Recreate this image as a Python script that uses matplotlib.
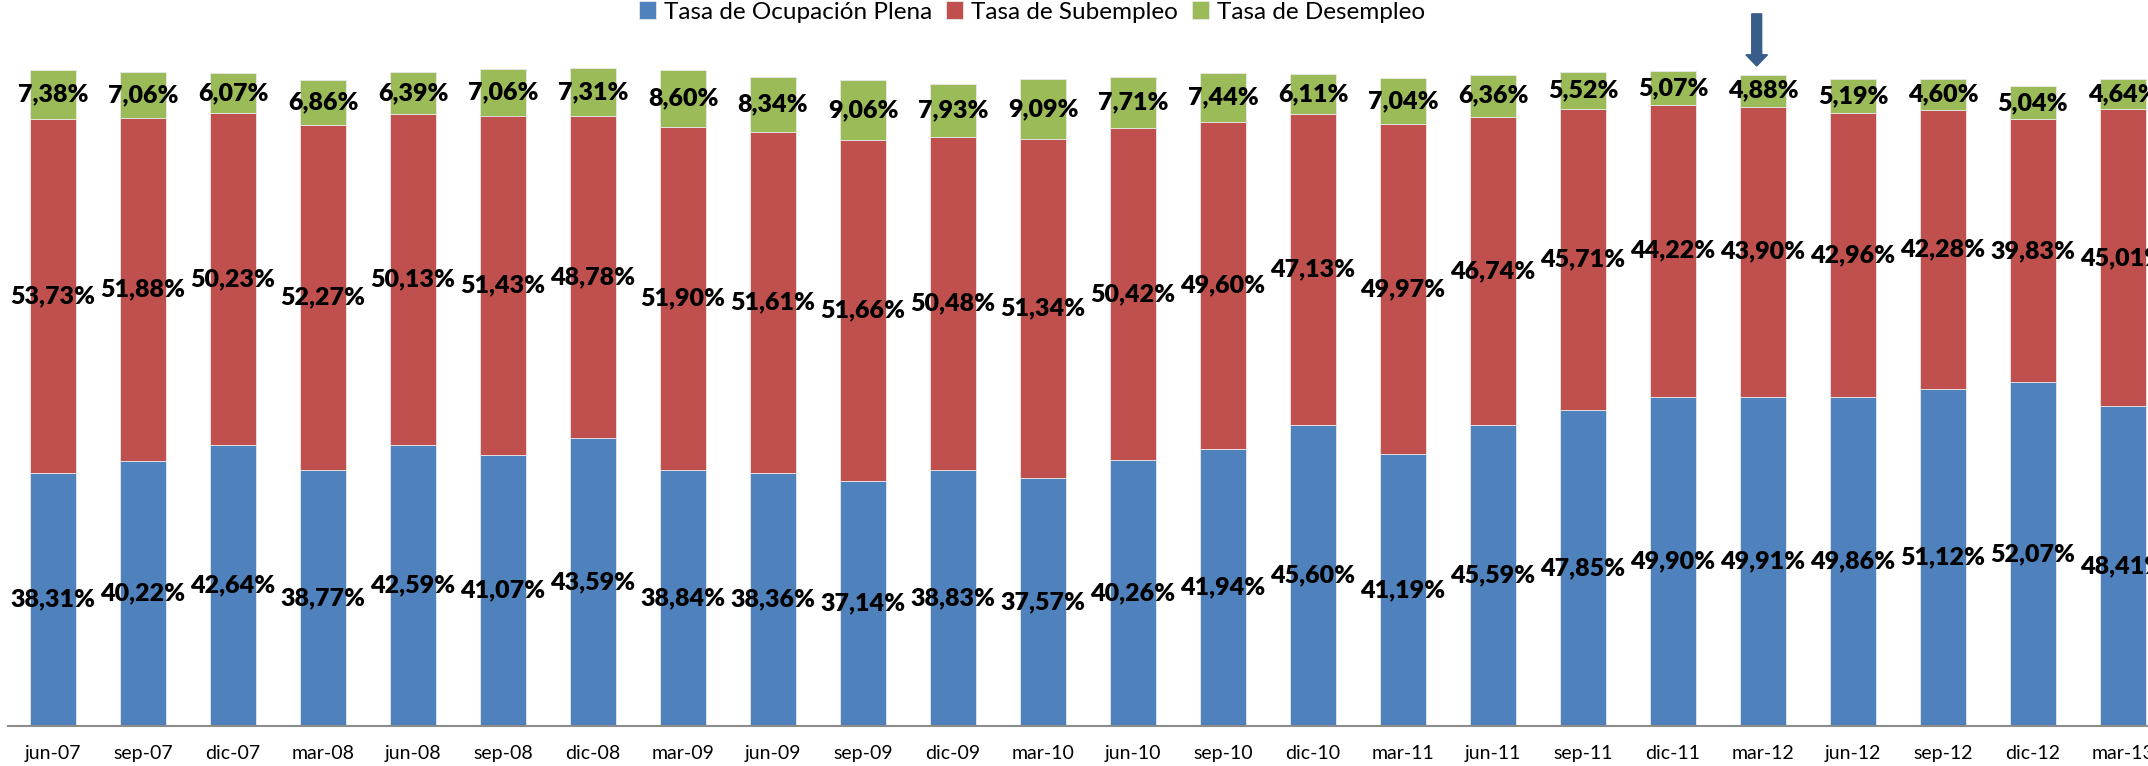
import numpy as np
import matplotlib.pyplot as plt
from matplotlib.patches import FancyArrow

periodos = ['jun-07', 'sep-07', 'dic-07', 'mar-08', 'jun-08', 'sep-08', 'dic-08', 'mar-09',
            'jun-09', 'sep-09', 'dic-09', 'mar-10', 'jun-10', 'sep-10', 'dic-10', 'mar-11',
            'jun-11', 'sep-11', 'dic-11', 'mar-12', 'jun-12', 'sep-12', 'dic-12', 'mar-13']

ocupacion = [38.31, 40.22, 42.64, 38.77, 42.59, 41.07, 43.59, 38.84, 38.36, 37.14, 38.83, 37.57,
             40.26, 41.94, 45.60, 41.19, 45.59, 47.85, 49.90, 49.91, 49.86, 51.12, 52.07, 48.41]
subempleo = [53.73, 51.88, 50.23, 52.27, 50.13, 51.43, 48.78, 51.90, 51.61, 51.66, 50.48, 51.34,
             50.42, 49.60, 47.13, 49.97, 46.74, 45.71, 44.22, 43.90, 42.96, 42.28, 39.83, 45.01]
desempleo = [7.38, 7.06, 6.07, 6.86, 6.39, 7.06, 7.31, 8.60, 8.34, 9.06, 7.93, 9.09,
             7.71, 7.44, 6.11, 7.04, 6.36, 5.52, 5.07, 4.88, 5.19, 4.60, 5.04, 4.64]

series = [('Tasa de Ocupación Plena', ocupacion, '#4F81BD'),
          ('Tasa de Subempleo', subempleo, '#C0504D'),
          ('Tasa de Desempleo', desempleo, '#9BBB59')]

plt.rcParams['font.family'] = ['Lato', 'DejaVu Sans']

fig = plt.figure(figsize=(21.48, 7.66), dpi=100)
ax = fig.add_axes([8 / 2148, 40 / 766, 2160 / 2148, 660 / 766])

x = np.arange(len(periodos))
base = np.zeros(len(periodos))
for nombre, vals, color in series:
    vals = np.array(vals)
    ax.bar(x, vals, 0.51, bottom=base, color=color, label=nombre,
           edgecolor='#e8e8e8', linewidth=0.6)
    for xi, b, v in zip(x, base, vals):
        ax.text(xi, b + v / 2, f'{v:.2f}%'.replace('.', ','), ha='center', va='center',
                fontsize=18, fontweight='heavy', color='black', clip_on=False)
    base = base + vals

ax.set_xlim(-0.5, len(periodos) - 0.5)
ax.set_ylim(0, 100)
ax.set_xticks(x)
ax.set_xticklabels(periodos, fontsize=14)
ax.tick_params(axis='x', length=0, pad=14)
ax.set_yticks([])
for s in ['top', 'left', 'right']:
    ax.spines[s].set_visible(False)
ax.spines['bottom'].set_color('#8c8c8c')
ax.spines['bottom'].set_linewidth(1.5)

# flecha sobre mar-12
i = periodos.index('mar-12')
ax.add_patch(FancyArrow(i - 0.07, 107.9, 0, -7.9, width=0.11, head_width=0.24,
                        head_length=1.7, length_includes_head=True,
                        color='#385D8A', clip_on=False))

fig.legend(loc='center', bbox_to_anchor=(1032 / 2148, 1 - 12 / 766), ncol=3, frameon=False,
           fontsize=17.5, handlelength=0.7, handleheight=0.7, handletextpad=0.3,
           columnspacing=0.6)

fig.savefig('out.png', dpi=100)
